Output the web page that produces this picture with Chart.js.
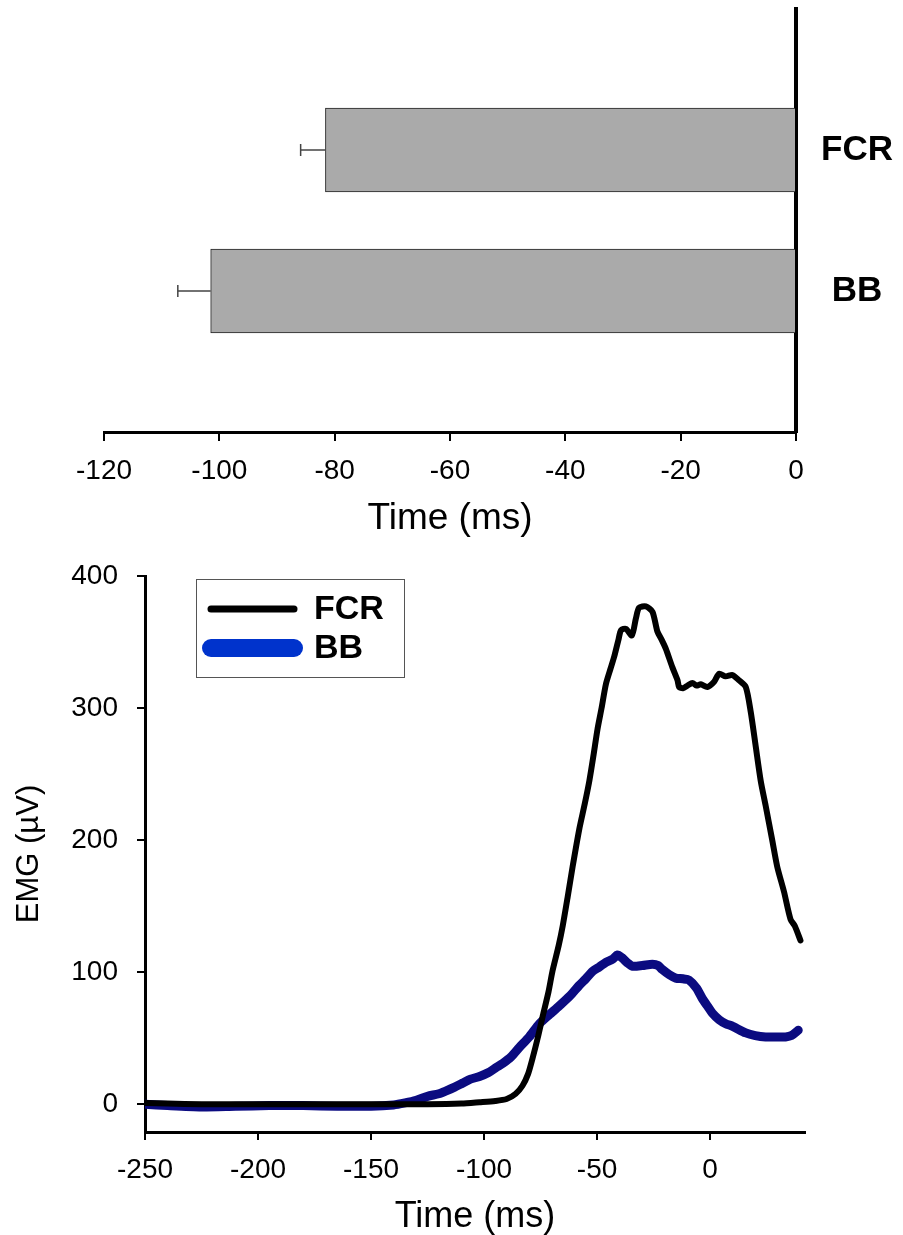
<!DOCTYPE html>
<html>
<head>
<meta charset="utf-8">
<script src="https://cdn.jsdelivr.net/npm/chart.js@4.4.1/dist/chart.umd.min.js"></script>
<style>
  html, body { margin: 0; padding: 0; background: #fff; overflow: hidden; }
  .box { position: absolute; left: 0; width: 903px; }
  #topBox { top: 0; height: 550px; }
  #bottomBox { top: 550px; height: 685px; }
</style>
</head>
<body>
<div class="box" id="topBox"><canvas id="latencyChart"></canvas></div>
<div class="box" id="bottomBox"><canvas id="emgChart"></canvas></div>
<script>
// --- DATA: onset latency (top) ---
const muscles = ['', 'FCR', 'BB', ''];
const latencyMean = [null, -81.6, -101.5, null];
const latencyErr = [null, 4.3, 5.7, null];
const latencyTicks = [-120, -100, -80, -60, -40, -20, 0];

// --- DATA: averaged EMG traces (bottom) ---
const fcrTime = [-250, -240, -225, -200, -175, -150, -125, -110, -102, -95, -90, -86, -83, -80.5, -78.5, -76, -74, -71.5,
  -69.7, -67, -65.2, -63, -60.8, -57.9, -55.5, -53.4, -51.5, -49.8, -48, -46.1, -44, -42.4, -40.5, -39.4, -37.2, -34.6,
  -32.8, -31.4, -28.4, -25.5, -23.3, -21.5, -19.6, -16.7, -14.4, -13.7, -12, -10, -7.8, -6, -4.1, -1.2, 1.8, 4, 6.9,
  9.9, 12.8, 15.8, 18, 20.2, 22.4, 24.6, 27.5, 29.7, 32.7, 35.6, 37.5, 40];
const fcrEmg = [1, 0.5, 0, 0, 0, 0, 0, 0.5, 1.5, 2.5, 4, 8, 14, 23, 35, 52, 67, 85,
  101, 120, 135, 157, 180, 208, 227, 245, 265, 284, 300, 318, 330, 339, 352, 359, 360, 355,
  368, 376, 377, 373, 358, 352, 345, 331, 321, 316, 315, 317, 319, 317, 318, 316, 320, 326, 324,
  325, 321, 316, 297, 271, 245, 226, 200, 180, 161, 140, 135, 124];

const bbTime = [-250, -240, -225, -210, -195, -180, -165, -150, -140, -135, -130, -125, -120, -117, -113, -109.5, -106,
  -102, -98, -94.5, -91.7, -88, -84.4, -80, -75.5, -71, -66.7, -62, -57.9, -55, -52, -49, -46.1, -43, -41, -39,
  -36.5, -34.3, -30, -25.5, -23, -21.1, -18, -15.2, -12, -9.3, -6, -3.4, -1, 1, 4, 6.9, 10, 15.8, 20, 24.6, 30,
  33.4, 36, 39];
const bbEmg = [0, -1, -2, -1.5, -1, -1, -1.5, -1.5, -0.5, 1, 3, 6, 8, 10, 13, 16, 19,
  21, 24, 28, 31, 36, 43, 51, 61, 68, 74.5, 82, 90, 95, 100.7, 104, 107.5, 110, 113, 111,
  107, 104.5, 105, 106, 105, 102, 98, 95.5, 95, 94, 88, 80, 74, 69, 64, 61, 59, 54, 52, 51, 51,
  51, 52, 56];

const timeTicks = [-250, -200, -150, -100, -50, 0];
const emgTicks = [0, 100, 200, 300, 400];

// --- HELPERS ---
const FONT = '"Liberation Sans", Arial, sans-serif';
const toPoints = (xs, ys) => xs.map((x, i) => ({ x, y: ys[i] }));
const fixTicks = (values) => (scale) => { scale.ticks = values.map(v => ({ value: v })); };
// fixed axis box, no extra label overhang padding
const fixSize = (prop, px) => (scale) => {
  scale[prop] = px;
  scale.paddingTop = 0; scale.paddingBottom = 0;
  scale.paddingLeft = 0; scale.paddingRight = 0;
};

Chart.defaults.font.family = FONT;
Chart.defaults.color = '#000';
Chart.defaults.animation = false;

// error bars drawn from the end of each bar to mean - err
const errorBars = {
  id: 'errorBars',
  afterDatasetsDraw(chart) {
    const { ctx } = chart;
    const xScale = chart.scales.x;
    const meta = chart.getDatasetMeta(0);
    ctx.save();
    ctx.strokeStyle = '#444';
    ctx.lineWidth = 1.5;
    meta.data.forEach((bar, i) => {
      const v = latencyMean[i];
      if (v === null) return;
      const xe = xScale.getPixelForValue(v - latencyErr[i]);
      ctx.beginPath();
      ctx.moveTo(bar.x, bar.y);
      ctx.lineTo(xe, bar.y);
      ctx.moveTo(xe, bar.y - 6);
      ctx.lineTo(xe, bar.y + 6);
      ctx.stroke();
    });
    ctx.restore();
  }
};

// boxed legend in the upper left of the plot
const legendColors = ['#000000', '#0033cc'];
const legendWidths = [7, 18];
const boxLegend = {
  id: 'boxLegend',
  afterDraw(chart) {
    const { ctx, chartArea } = chart;
    const x0 = chartArea.left + 51, y0 = chartArea.top + 3;
    ctx.save();
    ctx.fillStyle = '#fff';
    ctx.fillRect(x0, y0, 208, 98);
    ctx.strokeStyle = '#555';
    ctx.lineWidth = 1;
    ctx.strokeRect(x0 + 0.5, y0 + 0.5, 208, 98);
    chart.data.datasets.forEach((ds, i) => {
      const y = y0 + 30 + i * 39;
      ctx.strokeStyle = legendColors[i];
      ctx.lineWidth = legendWidths[i];
      ctx.lineCap = 'round';
      ctx.beginPath();
      ctx.moveTo(x0 + 15, y);
      ctx.lineTo(x0 + 98, y);
      ctx.stroke();
      ctx.fillStyle = '#000';
      ctx.font = 'bold 34px ' + FONT;
      ctx.textBaseline = 'middle';
      ctx.fillText(ds.label, x0 + 118, y + 1);
    });
    ctx.restore();
  }
};

// --- TOP: horizontal bars ---
new Chart(document.getElementById('latencyChart'), {
  type: 'bar',
  data: {
    labels: muscles,
    datasets: [{
      data: latencyMean,
      backgroundColor: '#aaaaaa',
      borderColor: '#222',
      borderWidth: 1,
      barThickness: 84
    }]
  },
  options: {
    indexAxis: 'y',
    responsive: true,
    maintainAspectRatio: false,
    layout: { padding: { top: 9, left: 104, right: 0, bottom: 0 } },
    plugins: { legend: { display: false }, tooltip: { enabled: false } },
    scales: {
      x: {
        type: 'linear',
        min: -120,
        max: 0,
        afterBuildTicks: fixTicks(latencyTicks),
        afterFit: fixSize('height', 118),
        grid: { display: true, drawOnChartArea: false, drawTicks: true, tickLength: 9, color: '#000', lineWidth: 2 },
        border: { display: true, color: '#000', width: 3 },
        ticks: { font: { size: 28 }, padding: 13, maxRotation: 0 },
        title: { display: true, text: 'Time (ms)', font: { size: 37, lineHeight: 1 }, padding: { top: 0, bottom: 13 } }
      },
      y: {
        type: 'category',
        position: 'right',
        offset: false,
        afterFit: fixSize('width', 107),
        grid: { display: false, drawTicks: false },
        border: { display: true, color: '#000', width: 4 },
        ticks: { font: { size: 35, weight: 'bold' }, padding: 25, crossAlign: 'center' }
      }
    }
  },
  plugins: [errorBars]
});

// --- BOTTOM: EMG traces ---
new Chart(document.getElementById('emgChart'), {
  type: 'line',
  data: {
    datasets: [
      {
        label: 'FCR',
        data: toPoints(fcrTime, fcrEmg),
        borderColor: '#000',
        borderWidth: 6,
        tension: 0.25,
        pointRadius: 0,
        borderCapStyle: 'round',
        borderJoinStyle: 'round'
      },
      {
        label: 'BB',
        data: toPoints(bbTime, bbEmg),
        borderColor: '#0b0b80',
        borderWidth: 9,
        tension: 0.25,
        pointRadius: 0,
        borderCapStyle: 'round',
        borderJoinStyle: 'round'
      }
    ]
  },
  options: {
    responsive: true,
    maintainAspectRatio: false,
    layout: { padding: { top: 26, left: 0, right: 98, bottom: 0 } },
    plugins: { legend: { display: false }, tooltip: { enabled: false } },
    scales: {
      x: {
        type: 'linear',
        min: -250,
        max: 42,
        afterBuildTicks: fixTicks(timeTicks),
        afterFit: fixSize('height', 103),
        grid: { display: true, drawOnChartArea: false, drawTicks: true, tickLength: 8, color: '#000', lineWidth: 2 },
        border: { display: true, color: '#000', width: 3 },
        ticks: { font: { size: 28 }, padding: 13, maxRotation: 0 },
        title: { display: true, text: 'Time (ms)', font: { size: 36, lineHeight: 1 }, padding: { top: 0, bottom: 0 } }
      },
      y: {
        type: 'linear',
        min: -21,
        max: 400,
        afterBuildTicks: fixTicks(emgTicks),
        afterFit: fixSize('width', 145),
        grid: { display: true, drawOnChartArea: false, drawTicks: true, tickLength: 8, color: '#000', lineWidth: 2 },
        border: { display: true, color: '#000', width: 3 },
        ticks: { font: { size: 28 }, padding: 19 },
        title: { display: true, text: 'EMG (µV)', font: { size: 31, lineHeight: 1 }, padding: { top: 14, bottom: 0 } }
      }
    }
  },
  plugins: [boxLegend]
});
</script>
</body>
</html>
